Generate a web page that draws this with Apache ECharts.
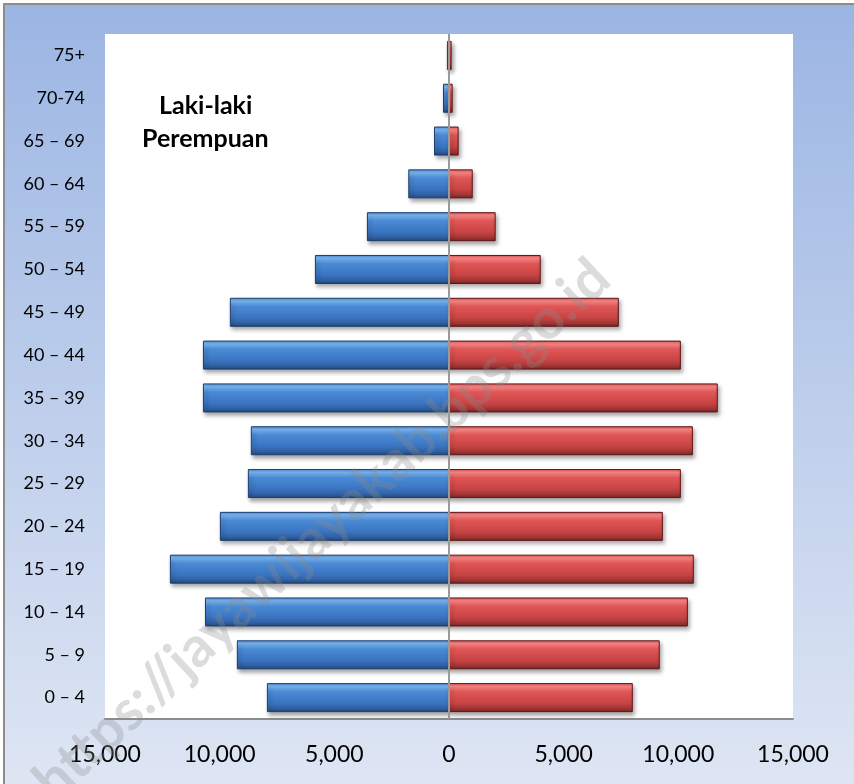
<!DOCTYPE html>
<html>
<head>
<meta charset="utf-8">
<script src="https://cdn.jsdelivr.net/npm/echarts@6/dist/echarts.min.js"></script>
<style>
html,body{margin:0;padding:0;overflow:hidden;background:#fff;}
#chart{width:854px;height:784px;}
</style>
</head>
<body>
<div id="chart"></div>
<script>
// Age groups (bottom to top)
var categories = ['0 – 4','5 – 9','10 – 14','15 – 19','20 – 24','25 – 29','30 – 34','35 – 39','40 – 44','45 – 49','50 – 54','55 – 59','60 – 64','65 – 69','70-74','75+'];
// Laki-laki (male) population
var maleValues = [7940, 9250, 10640, 12170, 9990, 8770, 8640, 10730, 10730, 9555, 5845, 3578, 1775, 654, 262, 90];
// Perempuan (female) population
var femaleValues = [8015, 9190, 10415, 10675, 9325, 10110, 10635, 11720, 10110, 7405, 4000, 2035, 1035, 420, 160, 115];
var seriesNames = ['Laki-laki', 'Perempuan'];
var watermark = 'https://jayawijayakab.bps.go.id';

var FONT = 'Lato';
var chart = echarts.init(document.getElementById('chart'));

var blueFill = new echarts.graphic.LinearGradient(0, 0, 0, 1, [
  {offset: 0, color: '#4f8fdc'},
  {offset: 0.12, color: '#7db9f5'},
  {offset: 0.3, color: '#4a8bd6'},
  {offset: 0.7, color: '#3a73bf'},
  {offset: 0.88, color: '#2f5fa0'},
  {offset: 1, color: '#22467c'}
]);
var redFill = new echarts.graphic.LinearGradient(0, 0, 0, 1, [
  {offset: 0, color: '#e05252'},
  {offset: 0.12, color: '#ff8b8b'},
  {offset: 0.3, color: '#e15656'},
  {offset: 0.7, color: '#c74343'},
  {offset: 0.88, color: '#a03535'},
  {offset: 1, color: '#772323'}
]);

var legendCommon = {
  padding: 0, itemWidth: 0, itemHeight: 30, selectedMode: false,
  itemStyle: {opacity: 0, borderWidth: 0},
  textStyle: {fontFamily: FONT, fontWeight: 'bold', fontSize: 25, color: '#000'}
};

var option = {
  animation: false,
  textStyle: {fontFamily: FONT},
  graphic: [
    {
      type: 'rect', z: -10, silent: true,
      shape: {x: 4, y: 4, width: 900, height: 800},
      style: {
        fill: new echarts.graphic.LinearGradient(0, 0, 0, 1, [
          {offset: 0, color: '#9bb5e3'},
          {offset: 1, color: '#e0e7f4'}
        ]),
        stroke: '#8c8c8c', lineWidth: 2
      }
    },
    {
      type: 'text', z: 100, silent: true,
      x: 322, y: 530, rotation: 43 * Math.PI / 180,
      style: {
        text: watermark, fontFamily: FONT, fontWeight: 'bold', fontSize: 56,
        fill: 'rgba(140,140,140,0.3)', align: 'center', verticalAlign: 'middle'
      }
    }
  ],
  legend: [
    Object.assign({data: [seriesNames[0]], left: 154, top: 91}, legendCommon),
    Object.assign({data: [seriesNames[1]], left: 137, top: 124}, legendCommon)
  ],
  grid: {left: 105, right: 61, top: 34, bottom: 65, show: true, backgroundColor: '#ffffff', borderWidth: 0},
  xAxis: {
    type: 'value', min: -15000, max: 15000, interval: 5000,
    axisLine: {show: true, lineStyle: {color: '#8c8c8c', width: 2}},
    axisTick: {show: false},
    splitLine: {show: false},
    axisLabel: {
      fontFamily: FONT, fontSize: 23, color: '#000', margin: 24,
      formatter: function (v) { return Math.abs(v).toLocaleString('en-US'); }
    }
  },
  yAxis: {
    type: 'category', data: categories,
    axisLine: {show: false},
    axisTick: {show: false},
    axisLabel: {fontFamily: FONT, fontSize: 18, color: '#000', margin: 20}
  },
  series: [
    {
      name: seriesNames[0], type: 'bar', barWidth: 29, barGap: '-100%',
      data: maleValues.map(function (v) { return -v; }),
      itemStyle: {
        color: blueFill, borderColor: '#1d3d6e', borderWidth: 1,
        shadowColor: 'rgba(0,0,0,0.35)', shadowBlur: 4, shadowOffsetX: 2, shadowOffsetY: 3
      },
      markLine: {
        silent: true, symbol: 'none', label: {show: false},
        lineStyle: {color: '#9a9a9a', width: 2, type: 'solid'},
        data: [{xAxis: 0}], z: 5
      }
    },
    {
      name: seriesNames[1], type: 'bar', barWidth: 29,
      data: femaleValues,
      itemStyle: {
        color: redFill, borderColor: '#5e1616', borderWidth: 1,
        shadowColor: 'rgba(0,0,0,0.35)', shadowBlur: 4, shadowOffsetX: 2, shadowOffsetY: 3
      }
    }
  ]
};
chart.setOption(option);
</script>
</body>
</html>
